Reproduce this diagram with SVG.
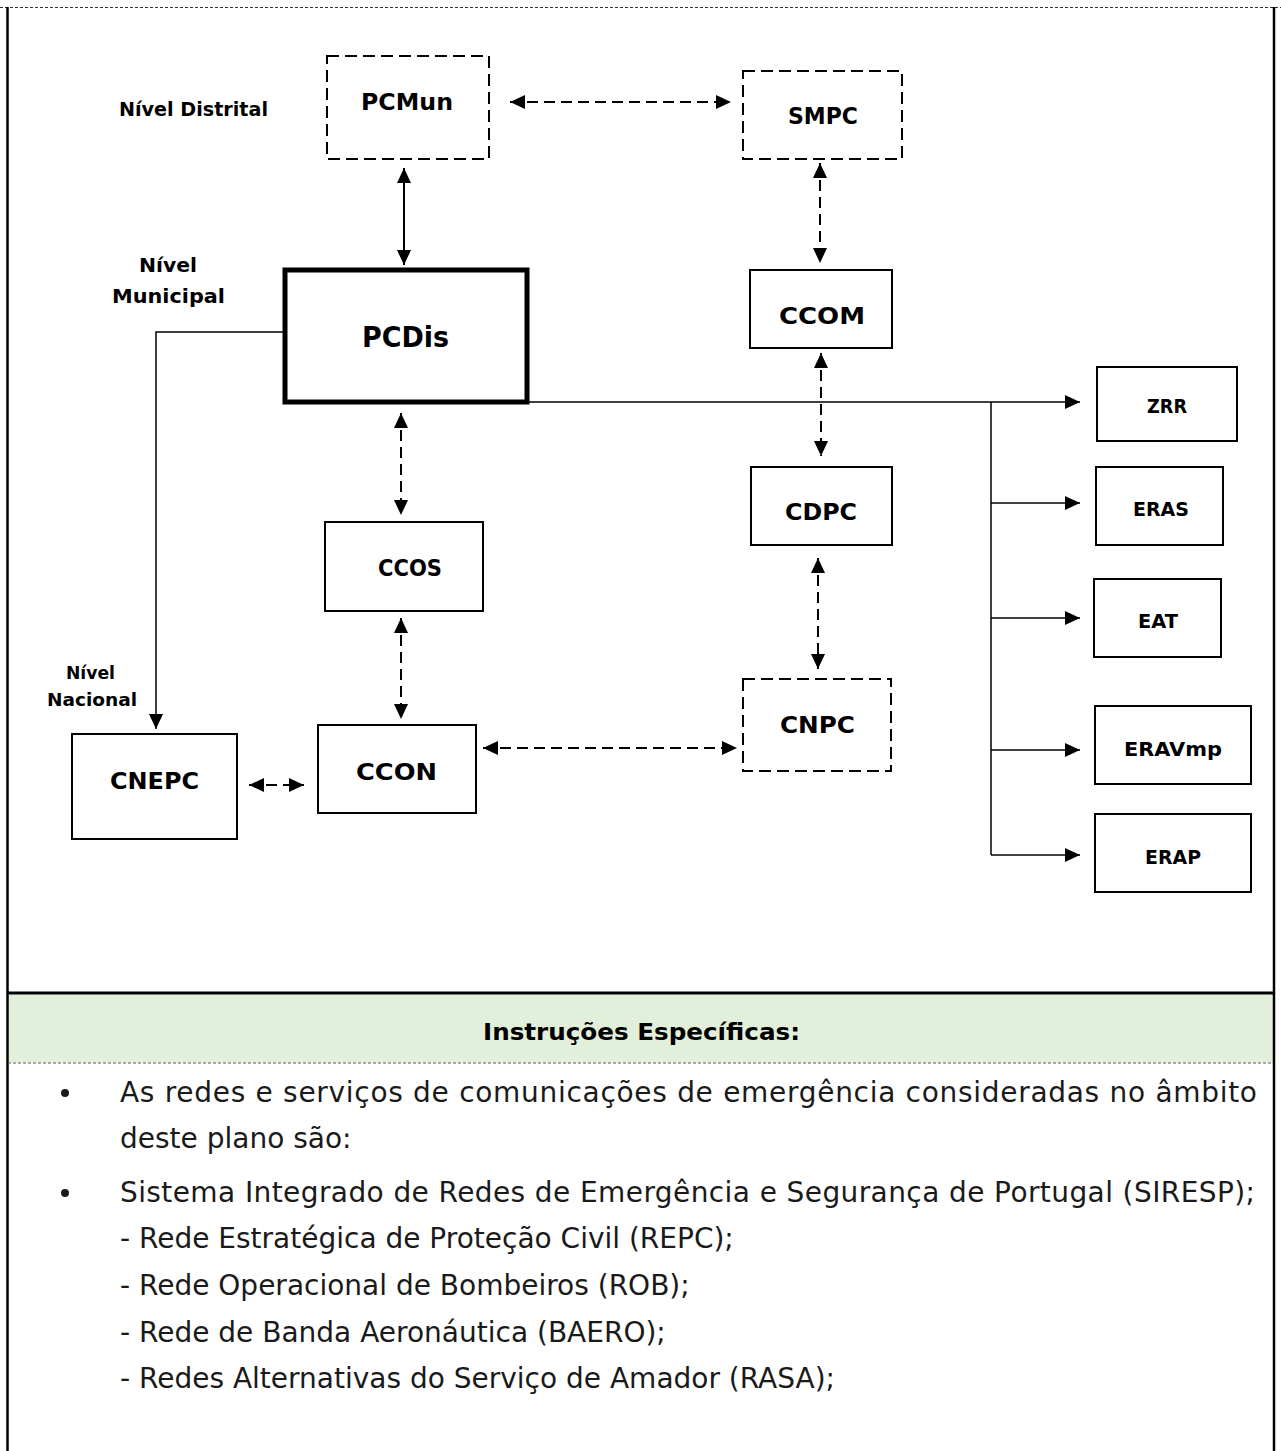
<svg xmlns="http://www.w3.org/2000/svg" width="1281" height="1451" viewBox="0 0 1281 1451">
  <style>
    .box { fill: #ffffff; stroke: #000000; stroke-width: 2; }
    .dbox { fill: #ffffff; stroke: #000000; stroke-width: 2; stroke-dasharray: 12 6; }
    .lbl { font-family: "DejaVu Sans", "Liberation Sans", sans-serif; font-weight: bold; font-size: 23px; fill: #000000; }
    .sm { font-size: 19px; }
    .lvl { font-family: "DejaVu Sans", "Liberation Sans", sans-serif; font-weight: bold; font-size: 19px; fill: #000000; }
    .body { font-family: "DejaVu Sans", "Liberation Sans", sans-serif; font-size: 28px; fill: #1a1a1a; }
    .solid { fill: none; stroke: #000000; stroke-width: 2; }
    .thin { fill: none; stroke: #000000; stroke-width: 1.5; }
    .dash { fill: none; stroke: #000000; stroke-width: 2; stroke-dasharray: 11 6; }
  </style>
  <defs>
    <marker id="ah" markerUnits="userSpaceOnUse" markerWidth="15" markerHeight="14" refX="15" refY="7" orient="auto-start-reverse">
      <path d="M0,0 L15,7 L0,14 Z" fill="#000000"/>
    </marker>
  </defs>

  <rect x="0" y="0" width="1281" height="1451" fill="#ffffff"/>

  <!-- page frame -->
  <g id="frame">
    <rect x="8.5" y="994.5" width="1264.5" height="68" fill="#e2efda"/>
    <line x1="0" y1="7.5" x2="1281" y2="7.5" stroke="#333333" stroke-width="1" stroke-dasharray="3 2"/>
    <line x1="7.5" y1="7" x2="7.5" y2="1451" stroke="#000000" stroke-width="2.5"/>
    <line x1="1274" y1="7" x2="1274" y2="1451" stroke="#000000" stroke-width="2.5"/>
    <line x1="7" y1="993" x2="1275" y2="993" stroke="#000000" stroke-width="3"/>
    <line x1="8" y1="1063" x2="1273" y2="1063" stroke="#555555" stroke-width="1" stroke-dasharray="3 2"/>
  </g>

  <!-- level captions -->
  <g id="levels">
    <text class="lvl" x="119" y="115.5" textLength="149" lengthAdjust="spacingAndGlyphs">Nível Distrital</text>
    <text class="lvl" x="139" y="272" textLength="58" lengthAdjust="spacingAndGlyphs">Nível</text>
    <text class="lvl" x="112" y="303" textLength="113" lengthAdjust="spacingAndGlyphs">Municipal</text>
    <text class="lvl" x="66" y="678.7" textLength="49" lengthAdjust="spacingAndGlyphs" style="font-size:17px">Nível</text>
    <text class="lvl" x="47" y="705.7" textLength="90" lengthAdjust="spacingAndGlyphs" style="font-size:17px">Nacional</text>
  </g>

  <!-- connectors -->
  <g id="connectors">
    <line class="dash" x1="510" y1="102" x2="731" y2="102" marker-start="url(#ah)" marker-end="url(#ah)"/>
    <line class="solid" x1="404" y1="168" x2="404" y2="265" marker-start="url(#ah)" marker-end="url(#ah)"/>
    <line class="dash" x1="820" y1="163" x2="820" y2="263" marker-start="url(#ah)" marker-end="url(#ah)"/>
    <path class="thin" d="M285,332 H156 V729" marker-end="url(#ah)"/>
    <line class="dash" x1="401" y1="413" x2="401" y2="515" marker-start="url(#ah)" marker-end="url(#ah)"/>
    <line class="dash" x1="401" y1="618" x2="401" y2="719" marker-start="url(#ah)" marker-end="url(#ah)"/>
    <line class="dash" x1="249" y1="785" x2="304" y2="785" marker-start="url(#ah)" marker-end="url(#ah)"/>
    <line class="dash" x1="483" y1="748" x2="737" y2="748" marker-start="url(#ah)" marker-end="url(#ah)"/>
    <line class="dash" x1="821" y1="353" x2="821" y2="456" marker-start="url(#ah)" marker-end="url(#ah)"/>
    <line class="dash" x1="818" y1="558" x2="818" y2="669" marker-start="url(#ah)" marker-end="url(#ah)"/>
    <path class="thin" d="M527,402 H1080" marker-end="url(#ah)"/>
    <path class="thin" d="M991,402 V855"/>
    <path class="thin" d="M991,503 H1080" marker-end="url(#ah)"/>
    <path class="thin" d="M991,618 H1080" marker-end="url(#ah)"/>
    <path class="thin" d="M991,750 H1080" marker-end="url(#ah)"/>
    <path class="thin" d="M991,855 H1080" marker-end="url(#ah)"/>
  </g>

  <!-- nodes -->
  <g id="node-pcmun">
    <rect class="dbox" x="327" y="56" width="162" height="103"/>
    <text class="lbl" x="361" y="109.5" textLength="92" lengthAdjust="spacingAndGlyphs">PCMun</text>
  </g>
  <g id="node-smpc">
    <rect class="dbox" x="743" y="71" width="159" height="88"/>
    <text class="lbl" x="788" y="124" textLength="70" lengthAdjust="spacingAndGlyphs">SMPC</text>
  </g>
  <g id="node-pcdis">
    <rect class="box" x="285" y="270" width="242" height="132" style="stroke-width:5"/>
    <text class="lbl" x="362" y="347" textLength="87" lengthAdjust="spacingAndGlyphs" style="font-size:28px">PCDis</text>
  </g>
  <g id="node-ccom">
    <rect class="box" x="750" y="270" width="142" height="78"/>
    <text class="lbl" x="779" y="323.5" textLength="86" lengthAdjust="spacingAndGlyphs">CCOM</text>
  </g>
  <g id="node-cdpc">
    <rect class="box" x="751" y="467" width="141" height="78"/>
    <text class="lbl" x="785" y="520" textLength="72" lengthAdjust="spacingAndGlyphs">CDPC</text>
  </g>
  <g id="node-ccos">
    <rect class="box" x="325" y="522" width="158" height="89"/>
    <text class="lbl" x="378" y="575.5" textLength="64" lengthAdjust="spacingAndGlyphs">CCOS</text>
  </g>
  <g id="node-ccon">
    <rect class="box" x="318" y="725" width="158" height="88"/>
    <text class="lbl" x="356" y="779.5" textLength="81" lengthAdjust="spacingAndGlyphs">CCON</text>
  </g>
  <g id="node-cnepc">
    <rect class="box" x="72" y="734" width="165" height="105"/>
    <text class="lbl" x="110" y="788.5" textLength="89" lengthAdjust="spacingAndGlyphs">CNEPC</text>
  </g>
  <g id="node-cnpc">
    <rect class="dbox" x="743" y="679" width="148" height="92"/>
    <text class="lbl" x="780" y="733" textLength="75" lengthAdjust="spacingAndGlyphs">CNPC</text>
  </g>
  <g id="node-zrr">
    <rect class="box" x="1097" y="367" width="140" height="74"/>
    <text class="lbl sm" x="1147" y="412.5" textLength="40" lengthAdjust="spacingAndGlyphs">ZRR</text>
  </g>
  <g id="node-eras">
    <rect class="box" x="1096" y="467" width="127" height="78"/>
    <text class="lbl sm" x="1133" y="515.5" textLength="56" lengthAdjust="spacingAndGlyphs">ERAS</text>
  </g>
  <g id="node-eat">
    <rect class="box" x="1094" y="579" width="127" height="78"/>
    <text class="lbl sm" x="1138" y="628" textLength="40" lengthAdjust="spacingAndGlyphs">EAT</text>
  </g>
  <g id="node-eravmp">
    <rect class="box" x="1095" y="706" width="156" height="78"/>
    <text class="lbl sm" x="1124" y="755.5" textLength="98" lengthAdjust="spacingAndGlyphs">ERAVmp</text>
  </g>
  <g id="node-erap">
    <rect class="box" x="1095" y="814" width="156" height="78"/>
    <text class="lbl sm" x="1145" y="863.5" textLength="56" lengthAdjust="spacingAndGlyphs">ERAP</text>
  </g>

  <!-- instructions block -->
  <g id="instructions">
    <text class="lbl" x="483" y="1040" textLength="317" lengthAdjust="spacingAndGlyphs">Instruções Específicas:</text>
    <circle cx="65" cy="1093" r="4" fill="#1a1a1a"/>
    <text class="body" x="120" y="1102" textLength="1137">As redes e serviços de comunicações de emergência consideradas no âmbito</text>
    <text class="body" x="120" y="1148">deste plano são:</text>
    <circle cx="65" cy="1193" r="4" fill="#1a1a1a"/>
    <text class="body" x="120" y="1202" textLength="1135">Sistema Integrado de Redes de Emergência e Segurança de Portugal (SIRESP);</text>
    <text class="body" x="120" y="1248">- Rede Estratégica de Proteção Civil (REPC);</text>
    <text class="body" x="120" y="1295">- Rede Operacional de Bombeiros (ROB);</text>
    <text class="body" x="120" y="1342">- Rede de Banda Aeronáutica (BAERO);</text>
    <text class="body" x="120" y="1388">- Redes Alternativas do Serviço de Amador (RASA);</text>
  </g>
</svg>
